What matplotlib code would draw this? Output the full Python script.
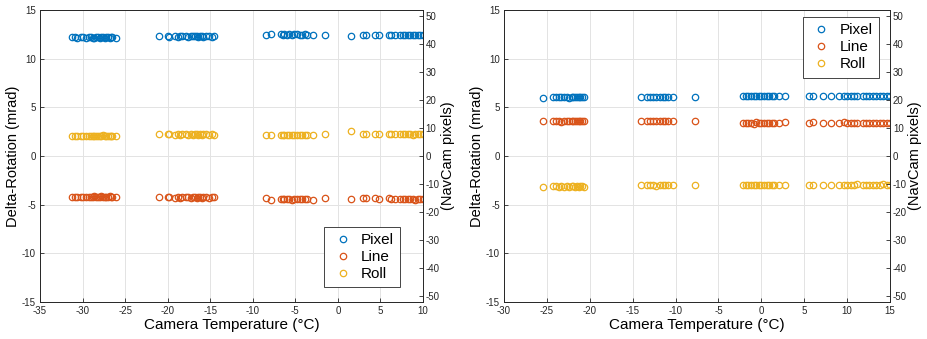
import matplotlib.pyplot as plt

plt.rcParams['font.family'] = ['Liberation Sans', 'DejaVu Sans']
plt.rcParams['axes.unicode_minus'] = False

# MATLAB default colours
BLUE = '#0072BD'
ORANGE = '#D95319'
YELLOW = '#EDB120'

# left panel: camera temperature (degC) and delta-rotation (mrad)
temp_a = [-31.2, -30.9, -30.6, -30.2, -29.9, -29.6, -29.3, -29.0, -28.8, -28.6, -28.4,
          -28.2, -28.0, -27.8, -27.6, -27.4, -27.2, -27.0, -26.8, -26.6, -26.5, -26.1,
          -21.0, -20.0, -19.8, -19.1, -18.8, -18.6, -18.3, -17.9, -17.6, -17.3, -17.0,
          -16.8, -16.6, -16.4, -16.2, -16.0, -15.8, -15.5, -15.1, -14.8, -14.6,
          -8.4, -7.8, -6.7, -6.5, -6.3, -6.0, -5.7, -5.4, -5.1, -4.8, -4.5, -4.2,
          -3.9, -3.6, -2.9, -1.5,
          1.5, 3.0, 3.3, 4.4, 4.8, 6.0, 6.3, 6.7, 7.3, 7.6, 7.9, 8.2, 8.5, 8.8, 9.1,
          9.4, 9.7, 10.0]
pixel_a = [12.20, 12.21, 12.19, 12.20, 12.22, 12.18, 12.20, 12.21, 12.17, 12.19, 12.22,
           12.20, 12.18, 12.21, 12.23, 12.19, 12.20, 12.22, 12.18, 12.21, 12.20, 12.19,
           12.30, 12.31, 12.29, 12.30, 12.28, 12.31, 12.30, 12.32, 12.29, 12.30, 12.33,
           12.36, 12.31, 12.29, 12.34, 12.30, 12.28, 12.31, 12.30, 12.29, 12.30,
           12.45, 12.52, 12.50, 12.48, 12.51, 12.49, 12.50, 12.47, 12.50, 12.52, 12.49,
           12.48, 12.50, 12.47, 12.48, 12.44,
           12.38, 12.47, 12.48, 12.46, 12.45, 12.48, 12.47, 12.49, 12.47, 12.46, 12.48,
           12.47, 12.49, 12.46, 12.48, 12.47, 12.45, 12.47]
line_a = [-4.18, -4.20, -4.22, -4.19, -4.17, -4.21, -4.18, -4.16, -4.20, -4.14, -4.22,
          -4.18, -4.21, -4.13, -4.19, -4.24, -4.17, -4.20, -4.15, -4.22, -4.19, -4.21,
          -4.22, -4.25, -4.23, -4.26, -4.24, -4.27, -4.23, -4.25, -4.22, -4.26, -4.24,
          -4.21, -4.28, -4.25, -4.23, -4.27, -4.24, -4.22, -4.26, -4.23, -4.25,
          -4.32, -4.48, -4.40, -4.45, -4.42, -4.44, -4.38, -4.46, -4.41, -4.43, -4.45,
          -4.40, -4.37, -4.42, -4.46, -4.32,
          -4.36, -4.34, -4.35, -4.33, -4.36, -4.35, -4.38, -4.36, -4.40, -4.44, -4.42,
          -4.45, -4.41, -4.43, -4.46, -4.42, -4.44, -4.43]
roll_a = [2.08, 2.07, 2.09, 2.06, 2.08, 2.10, 2.07, 2.05, 2.09, 2.11, 2.06,
          2.08, 2.10, 2.07, 2.12, 2.06, 2.09, 2.08, 2.11, 2.07, 2.09, 2.08,
          2.24, 2.23, 2.25, 2.22, 2.24, 2.21, 2.23, 2.25, 2.22, 2.24, 2.20,
          2.26, 2.23, 2.21, 2.25, 2.22, 2.24, 2.23, 2.21, 2.25, 2.22,
          2.22, 2.19, 2.18, 2.16, 2.20, 2.17, 2.21, 2.19, 2.22, 2.18, 2.20,
          2.17, 2.21, 2.14, 2.22, 2.24,
          2.53, 2.27, 2.26, 2.24, 2.27, 2.26, 2.25, 2.28, 2.24, 2.26, 2.23,
          2.27, 2.25, 2.22, 2.26, 2.24, 2.23, 2.25]

# right panel
temp_b = [-25.5, -24.3, -23.9, -23.6, -23.3, -23.0, -22.7, -22.4, -22.1, -21.9, -21.7,
          -21.5, -21.3, -21.1, -20.9, -20.7,
          -14.0, -13.3, -13.0, -12.6, -12.3, -11.8, -11.5, -11.2, -10.9, -10.3, -7.7,
          -2.1, -1.8, -1.5, -1.2, -0.9, -0.6, -0.3, 0.0, 0.3, 0.6, 0.9, 1.2, 1.5, 2.0, 2.8,
          5.6, 6.0, 7.2, 8.1, 9.0, 9.6, 10.0, 10.4, 10.8, 11.2, 11.8, 12.2, 12.6, 13.0,
          13.4, 13.8, 14.2, 14.6, 15.0]
pixel_b = [5.95, 6.04, 6.05, 6.03, 6.07, 6.04, 6.06, 6.02, 6.08, 6.05, 6.03,
           6.06, 6.04, 6.07, 6.05, 6.03,
           6.06, 6.07, 6.08, 6.06, 6.09, 6.07, 6.08, 6.06, 6.09, 6.10, 6.11,
           6.15, 6.16, 6.14, 6.17, 6.15, 6.18, 6.16, 6.14, 6.17, 6.15, 6.16, 6.14, 6.16, 6.15, 6.13,
           6.15, 6.16, 6.14, 6.15, 6.16, 6.15, 6.17, 6.15, 6.16, 6.14, 6.16, 6.15, 6.17, 6.16,
           6.15, 6.14, 6.16, 6.15, 6.16]
line_b = [3.58, 3.62, 3.57, 3.60, 3.55, 3.63, 3.58, 3.61, 3.56, 3.64, 3.59,
          3.62, 3.57, 3.60, 3.63, 3.58,
          3.66, 3.60, 3.58, 3.62, 3.59, 3.64, 3.60, 3.57, 3.63, 3.66, 3.58,
          3.45, 3.40, 3.38, 3.43, 3.35, 3.46, 3.39, 3.42, 3.37, 3.44, 3.40, 3.36, 3.43, 3.38, 3.50,
          3.45, 3.46, 3.44, 3.45, 3.43, 3.46, 3.44, 3.42, 3.40, 3.43, 3.38, 3.41, 3.37, 3.40,
          3.38, 3.41, 3.39, 3.40, 3.42]
roll_b = [-3.13, -3.08, -3.12, -3.14, -3.10, -3.13, -3.11, -3.15, -3.12, -3.10, -3.14,
          -3.11, -3.13, -3.12, -3.10, -3.13,
          -3.00, -3.02, -2.99, -3.01, -3.03, -3.00, -3.02, -2.98, -3.01, -3.00, -3.02,
          -3.00, -3.02, -2.98, -3.01, -2.97, -3.00, -2.95, -2.99, -3.01, -2.98, -3.00, -3.02, -2.99, -3.01, -3.02,
          -2.96, -2.97, -2.95, -2.96, -2.94, -2.93, -2.92, -2.94, -2.93, -2.91, -2.93, -2.92, -2.94, -2.93,
          -2.92, -2.93, -2.91, -2.92, -2.93]

MRAD_TO_PIX = 3.474  # mrad -> NavCam pixels


def draw_panel(ax, temp, pixel, line, roll, xlim, xticks, legend_loc, legend_anchor):
    ax.set_axisbelow(True)
    kw = dict(linestyle='none', marker='o', markerfacecolor='none',
              markersize=4.6, markeredgewidth=0.9)
    ax.plot(temp, pixel, color=BLUE, label='Pixel', **kw)
    ax.plot(temp, line, color=ORANGE, label='Line', **kw)
    ax.plot(temp, roll, color=YELLOW, label='Roll', **kw)
    ax.set_xlim(*xlim)
    ax.set_ylim(-15, 15)
    ax.set_xticks(xticks)
    ax.set_yticks([-15, -10, -5, 0, 5, 10, 15])
    ax.grid(True, color='#e3e3e3', linewidth=0.7)
    ax.tick_params(direction='in', labelsize=7, length=3, width=0.6, colors='#262626',
                   top=False, right=False, pad=3)
    for s in ax.spines.values():
        s.set_color('#262626')
        s.set_linewidth(0.6)
    ax.set_xlabel('Camera Temperature (°C)', fontsize=11, labelpad=1)
    ax.set_ylabel('Delta-Rotation (mrad)', fontsize=10.5, labelpad=1)

    ax2 = ax.twinx()
    ax2.set_ylim(-15 * MRAD_TO_PIX, 15 * MRAD_TO_PIX)
    ax2.set_yticks([-50, -40, -30, -20, -10, 0, 10, 20, 30, 40, 50])
    ax2.tick_params(direction='in', labelsize=7, length=3, width=0.6, colors='#262626',
                    pad=2)
    for s in ax2.spines.values():
        s.set_color('#262626')
        s.set_linewidth(0.6)
    ax2.set_ylabel('(NavCam pixels)', fontsize=10.5, labelpad=1)

    leg = ax2.legend(*ax.get_legend_handles_labels(), loc=legend_loc,
                     bbox_to_anchor=legend_anchor, fontsize=11, fancybox=False,
                     edgecolor='#262626', framealpha=1, borderaxespad=0,
                     handletextpad=0.4, handlelength=1.6, labelspacing=0.2,
                     borderpad=0.4)
    leg.get_frame().set_linewidth(0.6)


fig = plt.figure(figsize=(9.28, 3.39), dpi=100)
ax_a = fig.add_axes([0.0431, 0.109, 0.4127, 0.861])
ax_b = fig.add_axes([0.5431, 0.109, 0.4160, 0.861])

draw_panel(ax_a, temp_a, pixel_a, line_a, roll_a, (-35, 10), range(-35, 11, 5),
           'lower right', (0.94, 0.051))
draw_panel(ax_b, temp_b, pixel_b, line_b, roll_b, (-30, 15), range(-30, 16, 5),
           'upper right', (0.971, 0.976))

fig.savefig('out.png', dpi=100)
